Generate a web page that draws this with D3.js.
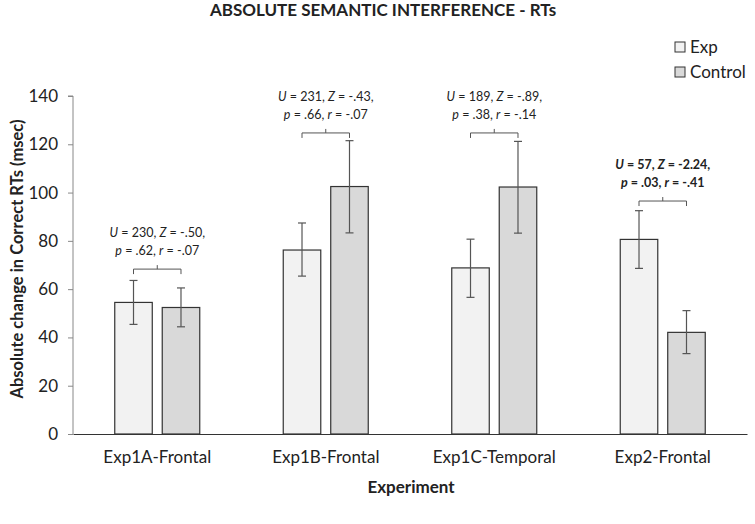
<!DOCTYPE html>
<html><head><meta charset="utf-8">
<script src="https://cdn.jsdelivr.net/npm/d3@7"></script>
<style>body{margin:0;background:#fff}svg{display:block}text{font-family:Lato,"Open Sans",sans-serif;fill:#222}</style>
</head><body><svg id="c" width="755" height="524"></svg>
<script>
const categories = ["Exp1A-Frontal","Exp1B-Frontal","Exp1C-Temporal","Exp2-Frontal"];
const series = ["Exp","Control"];
const expValues = [54.5, 76.2, 68.8, 80.6];
const expErrHi = [63.6, 87.4, 80.7, 92.5];
const expErrLo = [45.4, 65.4, 56.6, 68.6];
const ctrlValues = [52.4, 102.5, 102.3, 42.1];
const ctrlErrHi = [60.5, 121.5, 121.2, 51.1];
const ctrlErrLo = [44.4, 83.3, 83.2, 33.3];
const yTicks = [0,20,40,60,80,100,120,140];
const statLine1 = [["U"," = 230, ","Z"," = -.50,"],["U"," = 231, ","Z"," = -.43,"],["U"," = 189, ","Z"," = -.89,"],["U"," = 57, ","Z"," = -2.24,"]];
const statLine2 = [["p"," = .62, ","r"," = -.07"],["p"," = .66, ","r"," = -.07"],["p"," = .38, ","r"," = -.14"],["p"," = .03, ","r"," = -.41"]];
const statBold = [false,false,false,true];
const bracketLevel = [68.3, 124.7, 124.7, 96.5];

const svg = d3.select("#c");
const L=73, R=747, T=96, B=434;
const x0 = d3.scaleBand().domain(categories).range([L,R]);
const x1 = d3.scaleBand().domain(series).range([0,85]).paddingInner(0.21);
const y = d3.scaleLinear().domain([0,140]).range([B,T]);
const colors = {Exp:"#f2f2f2", Control:"#d9d9d9"};

svg.append("text").attr("x",383).attr("y",16).attr("text-anchor","middle")
  .style("font-weight","bold").style("font-size","17px").text("ABSOLUTE SEMANTIC INTERFERENCE - RTs");

// y axis
const ya = svg.append("g").attr("transform",`translate(${L},0)`)
  .call(d3.axisLeft(y).tickValues(yTicks).tickSize(5).tickPadding(10));
ya.select(".domain").attr("stroke","#888").attr("d",`M-5,${T}H0V${B}`);
ya.selectAll(".tick line").attr("stroke","#888");
ya.selectAll(".tick text").style("font-size","17px").attr("fill","#222").style("font-family","Lato");

const data = categories.map((c,i)=>({c,i,vals:[
  {s:"Exp",v:expValues[i],hi:expErrHi[i],lo:expErrLo[i]},
  {s:"Control",v:ctrlValues[i],hi:ctrlErrHi[i],lo:ctrlErrLo[i]}]}));
const off = (x0.bandwidth()-85)/2;
const g = svg.append("g").selectAll("g").data(data).join("g")
  .attr("transform",d=>`translate(${x0(d.c)+off},0)`);
g.selectAll("rect").data(d=>d.vals).join("rect")
  .attr("x",d=>x1(d.s)).attr("width",x1.bandwidth())
  .attr("y",d=>y(d.v)).attr("height",d=>y(0)-y(d.v))
  .attr("fill",d=>colors[d.s]).attr("stroke","#333").attr("stroke-width",1.2);
const eb = g.selectAll("g.err").data(d=>d.vals).join("g").attr("class","err")
  .attr("transform",d=>`translate(${x1(d.s)+x1.bandwidth()/2},0)`);
eb.append("line").attr("y1",d=>y(d.hi)).attr("y2",d=>y(d.lo)).attr("stroke","#555").attr("stroke-width",1.2);
eb.append("line").attr("x1",-4).attr("x2",4).attr("y1",d=>y(d.hi)).attr("y2",d=>y(d.hi)).attr("stroke","#555").attr("stroke-width",1.2);
eb.append("line").attr("x1",-4).attr("x2",4).attr("y1",d=>y(d.lo)).attr("y2",d=>y(d.lo)).attr("stroke","#555").attr("stroke-width",1.2);

// x axis
const xa = svg.append("g").attr("transform",`translate(0,${B})`)
  .call(d3.axisBottom(x0).tickSize(0).tickPadding(17));
xa.select(".domain").attr("stroke","#333").attr("stroke-width",1.2);
xa.selectAll(".tick text").style("font-size","17px").attr("fill","#222").style("font-family","Lato");

// annotations
data.forEach(d=>{
  const cx0 = x0(d.c)+off+x1("Exp")+x1.bandwidth()/2;
  const cx1 = x0(d.c)+off+x1("Control")+x1.bandwidth()/2;
  const by = y(bracketLevel[d.i]);
  const mid=(cx0+cx1)/2;
  svg.append("path").attr("d",`M${cx0},${by+5}V${by}H${cx1}V${by+5}M${mid},${by}V${by-4}`)
    .attr("fill","none").attr("stroke","#555").attr("stroke-width",1);
  [statLine1[d.i],statLine2[d.i]].forEach((parts,k)=>{
    const t = svg.append("text").attr("x",mid).attr("y",by-(k===0?36:18)+4)
      .attr("text-anchor","middle").style("font-size","12.5px")
      .style("font-weight",statBold[d.i]?"bold":"normal");
    parts.forEach((p,j)=>t.append("tspan").style("font-style",j%2===0?"italic":"normal").text(p));
  });
});

// axis titles
svg.append("text").attr("x",411).attr("y",493).attr("text-anchor","middle")
  .style("font-weight","bold").style("font-size","17px").text("Experiment");
svg.append("text").attr("transform","translate(23,259) rotate(-90)").attr("text-anchor","middle")
  .style("font-weight","bold").style("font-size","16.5px").text("Absolute change in Correct RTs (msec)");

// legend
const leg = svg.append("g").selectAll("g").data(series).join("g")
  .attr("transform",(d,i)=>`translate(675,${42+i*25})`);
leg.append("rect").attr("width",10).attr("height",10).attr("fill",d=>colors[d]).attr("stroke","#333");
leg.append("text").attr("x",15).attr("y",11).style("font-size","17px").text(d=>d);
</script></body></html>
